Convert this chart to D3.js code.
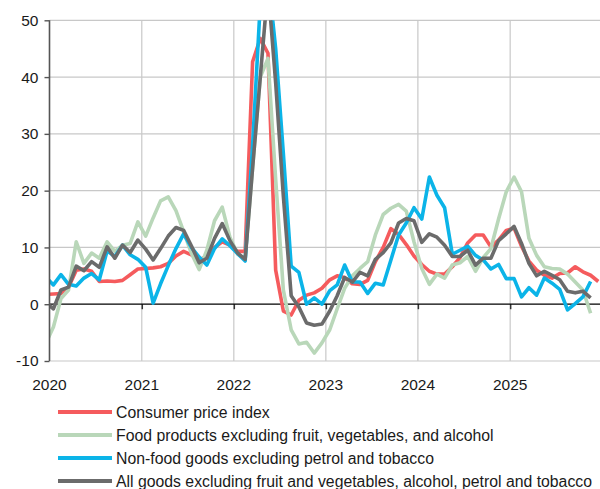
<!DOCTYPE html>
<html>
<head>
<meta charset="utf-8">
<script src="https://cdn.jsdelivr.net/npm/d3@7"></script>
<style>
  html, body { margin: 0; padding: 0; background: #fff; }
  svg { display: block; }
  text { font-family: "Liberation Sans", Arial, sans-serif; fill: #1a1a1a; }
</style>
</head>
<body>
<svg id="chart" width="600" height="489"></svg>
<script>
// ---- DATA (monthly, Dec 2019 ... Dec 2025) ----
const firstMonth = [2019, 11]; // Dec 2019 (month index 0-based)

const seriesNames = [
  "Consumer price index",
  "Food products excluding fruit, vegetables, and alcohol",
  "Non-food goods excluding petrol and tobacco",
  "All goods excluding fruit and vegetables, alcohol, petrol and tobacco"
];

const cpi = [
  1.7,
  1.8, 1.9, 3.0, 6.0, 6.2, 5.8, 4.0, 4.1, 4.0, 4.2, 5.2, 6.2,
  6.3, 6.4, 6.6, 7.2, 8.5, 9.3, 8.7, 7.8, 8.4, 10.0, 11.0, 10.4,
  9.3, 9.3, 42.7, 46.8, 44.2, 6.0, -1.2, -1.9, 0.7, 1.6, 2.0, 2.8,
  4.3, 5.0, 4.7, 3.6, 3.5, 4.2, 7.5, 10.0, 13.3, 12.3, 10.5, 8.5,
  7.0, 5.8, 5.3, 5.3, 6.6, 8.2, 10.8, 12.2, 12.2, 10.1, 11.3, 13.0,
  13.4, 10.2, 7.6, 6.0, 5.1, 4.6, 5.4, 5.5, 6.6, 5.7, 5.1, 4.0
];

const food = [
  -7.0,
  -4.0, 1.0, 2.5, 11.0, 7.2, 9.0, 8.1, 11.0, 9.3, 10.4, 10.7, 14.5,
  12.0, 15.2, 18.2, 18.9, 16.5, 12.8, 9.0, 6.1, 9.5, 14.7, 17.1, 11.8,
  8.8, 8.0, 24.0, 40.0, 43.3, 22.0, 2.5, -4.5, -7.0, -6.7, -8.6, -6.8,
  -4.5, -0.8, 2.8, 5.0, 6.3, 7.5, 12.2, 15.8, 16.9, 17.6, 16.4, 11.0,
  6.3, 3.5, 5.3, 4.6, 6.9, 7.3, 8.4, 5.8, 8.2, 9.8, 15.0, 19.8,
  22.4, 19.8, 11.6, 8.6, 6.6, 6.3, 6.2, 5.3, 3.9, 2.5, -1.6, null
];

const nonFood = [
  4.8,
  3.4, 5.2, 3.5, 3.2, 4.6, 5.4, 4.3, 9.4, 8.4, 10.4, 8.7, 7.9,
  6.5, 0.2, 3.6, 6.8, 9.8, 12.4, 10.0, 8.3, 6.9, 9.8, 11.5, 10.3,
  8.9, 7.6, 28.0, 53.0, 58.0, 45.0, 26.5, 6.7, 5.6, 0.0, 1.1, 0.0,
  2.4, 3.4, 6.9, 3.9, 3.9, 1.9, 3.7, 3.4, 7.8, 12.2, 14.3, 17.0,
  15.0, 22.4, 19.2, 17.0, 8.8, 9.5, 10.2, 8.6, 7.8, 6.2, 7.0, 4.5,
  4.5, 1.3, 2.9, 1.6, 4.6, 3.7, 2.6, -1.0, 0.1, 1.3, 4.0, null
];

const allGoods = [
  0.3,
  -0.8, 2.5, 3.0, 6.7, 5.9, 7.5, 6.5, 10.1, 8.1, 10.4, 9.1, 11.3,
  9.7, 7.8, 9.8, 12.0, 13.5, 13.0, 10.3, 7.3, 8.1, 11.6, 14.2, 11.2,
  9.0, 7.9, 24.0, 40.0, 56.0, 39.0, 19.0, 1.5, -0.5, -3.3, -3.7, -3.5,
  -1.2, 1.5, 4.7, 3.9, 5.6, 5.0, 7.9, 9.1, 10.8, 14.3, 15.1, 14.7,
  10.9, 12.4, 11.8, 10.4, 8.4, 8.4, 9.5, 6.9, 8.1, 8.1, 11.2, 12.4,
  13.7, 10.7, 7.2, 5.0, 5.8, 5.1, 4.3, 2.3, 2.0, 2.3, 1.1, null
];

const yTicks = [-10, 0, 10, 20, 30, 40, 50];
const yearTicks = [2020, 2021, 2022, 2023, 2024, 2025];

const colors = ["#F55B5D", "#B9D7B9", "#0BB4E8", "#6B6B6B"];

// ---- CHART ----
const svg = d3.select("#chart");
const W = 600, H = 489;
const mLeft = 49.5, mRight = 602.2, mTop = 20.3, mBottom = 361;

const x = d3.scaleTime()
  .domain([new Date(2020, 0, 1), new Date(2026, 0, 1)])
  .range([mLeft, mRight]);
const y = d3.scaleLinear().domain([-10, 50]).range([mBottom, mTop]);

const months = cpi.map((_, i) => {
  const d0 = new Date(firstMonth[0], firstMonth[1] + i, 1);
  const d1 = new Date(firstMonth[0], firstMonth[1] + i + 1, 1);
  return new Date((+d0 + +d1) / 2);
});

svg.append("rect").attr("width", W).attr("height", H).attr("fill", "#fff");

// horizontal grid
const grid = svg.append("g");
grid.selectAll("line.h").data(yTicks.filter(v => v !== 0)).join("line")
  .attr("class", "h")
  .attr("x1", mLeft).attr("x2", W)
  .attr("y1", d => y(d)).attr("y2", d => y(d))
  .attr("stroke", "#c8c8c8").attr("stroke-width", 1.2);
// vertical grid
grid.selectAll("line.v").data(yearTicks.slice(1)).join("line")
  .attr("class", "v")
  .attr("x1", d => x(new Date(d, 0, 1))).attr("x2", d => x(new Date(d, 0, 1)))
  .attr("y1", y(50)).attr("y2", y(-10))
  .attr("stroke", "#c8c8c8").attr("stroke-width", 1.2);

// clip
svg.append("clipPath").attr("id", "plot")
  .append("rect").attr("x", mLeft).attr("y", mTop).attr("width", W - mLeft).attr("height", mBottom - mTop + 10);

// zero line with year ticks
const xAxis = d3.axisBottom(x)
  .tickValues(yearTicks.slice(1).map(yr => new Date(yr, 0, 1)))
  .tickSize(5).tickFormat("");
const xg = svg.append("g").attr("transform", `translate(0,${y(0)})`).call(xAxis);
xg.select(".domain").remove();
xg.append("line").attr("x1", mLeft).attr("x2", W).attr("stroke", "#000").attr("stroke-width", 1.3);
xg.selectAll(".tick line").attr("stroke", "#333").attr("stroke-width", 1.5);

// series lines
const seriesData = [cpi, food, nonFood, allGoods];
const line = d3.line()
  .defined(d => d.v !== null)
  .x(d => x(d.t)).y(d => y(d.v));

const lines = svg.append("g").attr("clip-path", "url(#plot)");
seriesData.forEach((arr, si) => {
  const pts = arr.map((v, i) => ({ t: months[i], v }));
  lines.append("path").datum(pts)
    .attr("d", line)
    .attr("fill", "none")
    .attr("stroke", colors[si])
    .attr("stroke-width", 3.6)
    .attr("stroke-linejoin", "round");
});

// y axis
const yAxis = d3.axisLeft(y).tickValues(yTicks).tickSize(5).tickPadding(6)
  .tickFormat(d => String(d));
const yg = svg.append("g").attr("transform", `translate(${mLeft},0)`).call(yAxis);
yg.select(".domain").attr("stroke", "#555").attr("stroke-width", 1.6)
  .attr("d", `M0,${mTop}V${mBottom}`);
yg.selectAll(".tick line").attr("stroke", "#555").attr("stroke-width", 1.4);
yg.selectAll(".tick text").attr("font-size", 15.5).attr("fill", "#111")
  .attr("font-family", "Liberation Sans, Arial, sans-serif");

// x labels
svg.append("g").selectAll("text").data(yearTicks).join("text")
  .attr("x", d => x(new Date(d, 0, 1)))
  .attr("y", 390)
  .attr("text-anchor", "middle")
  .attr("font-size", 15.5)
  .attr("fill", "#111")
  .text(d => d);

// legend
const lg = svg.append("g");
seriesNames.forEach((name, i) => {
  const cy = 412 + i * 23;
  lg.append("line").attr("x1", 58).attr("x2", 112).attr("y1", cy).attr("y2", cy)
    .attr("stroke", colors[i]).attr("stroke-width", 4);
  lg.append("text").attr("x", 116).attr("y", cy).attr("dy", "0.35em")
    .attr("font-size", 15.8).attr("fill", "#111").text(name);
});
</script>
</body>
</html>
